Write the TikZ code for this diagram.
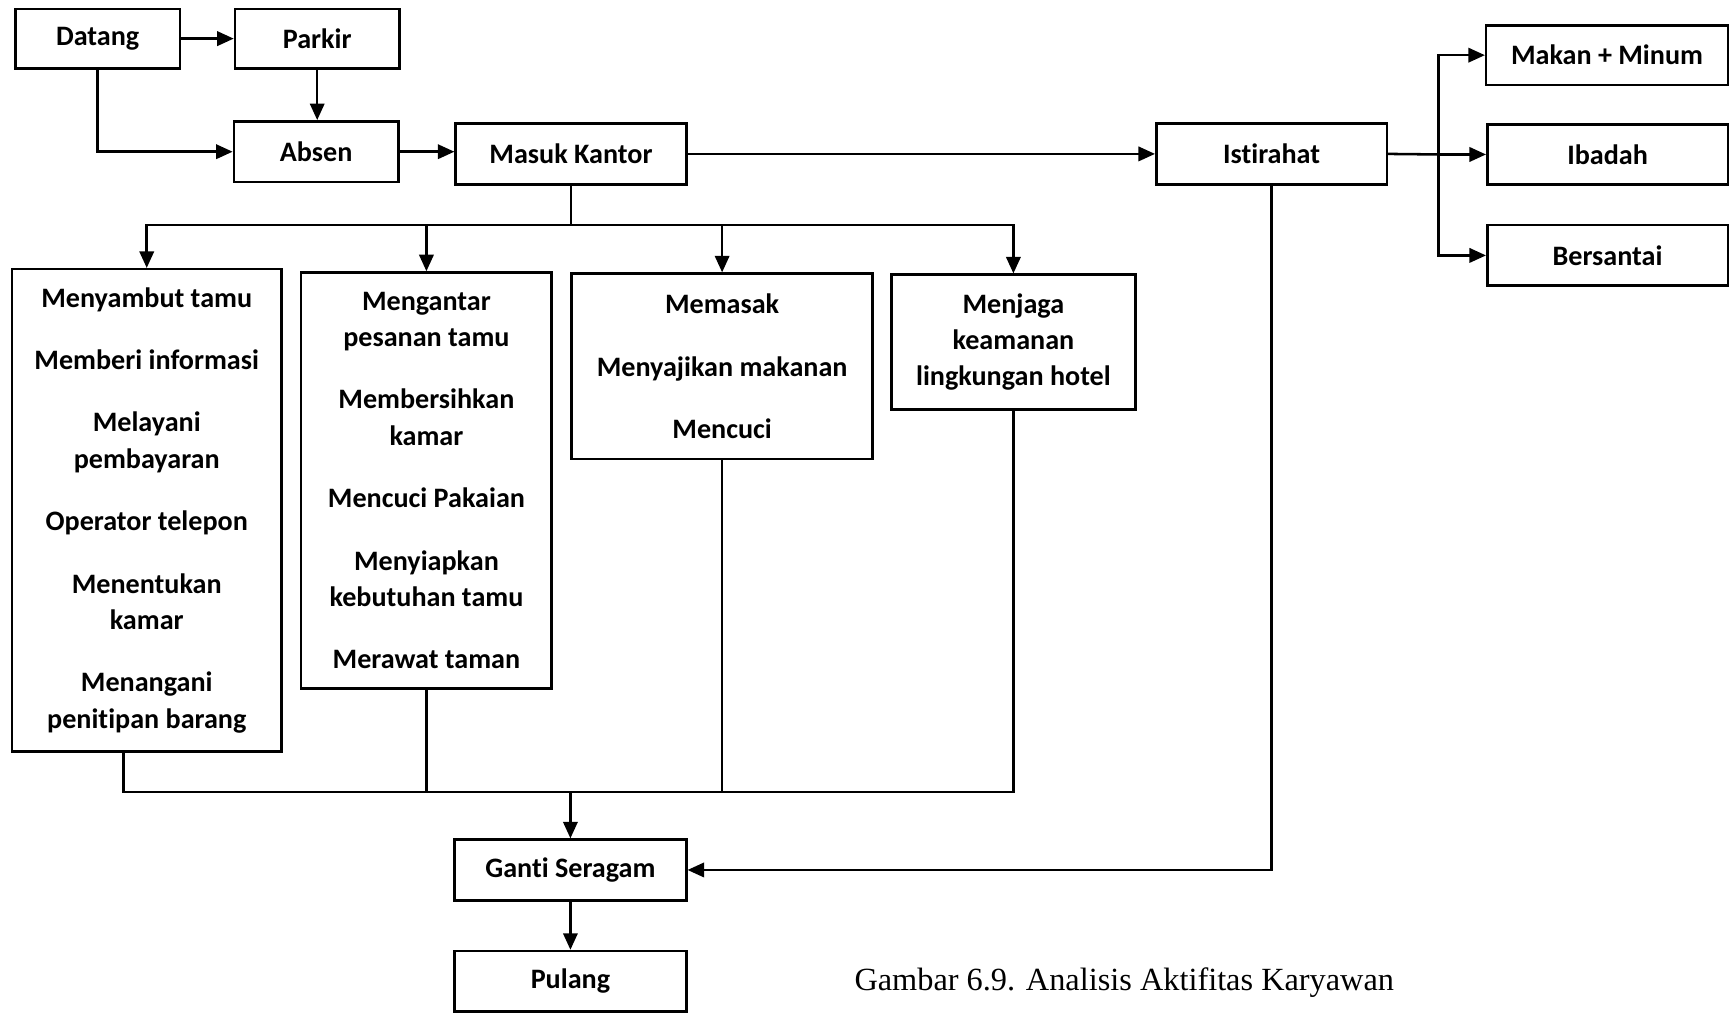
\documentclass[tikz,border=0pt]{standalone}
\usepackage{fontspec}
\setmainfont[Ligatures=NoCommon]{Carlito}
\newfontfamily\captionfont{Liberation Serif}
\usetikzlibrary{arrows.meta}
\begin{document}
\begin{tikzpicture}[x=1pt,y=-1pt,
  line width=2.3pt,
  every node/.style={font=\bfseries\fontsize{25.5}{33}\selectfont},
  box/.style={draw, inner sep=0pt, align=center},
  arr/.style={-{Triangle[length=15pt,width=13pt]}},
]
\useasboundingbox (0,0) rectangle (1568,918);

% top row: arrival
\node[box, minimum width=149pt, minimum height=54pt] (datang) at (88.5,35) {Datang};
\node[box, minimum width=149pt, minimum height=54pt] (parkir) at (287.5,35) {Parkir};
\node[box, minimum width=149pt, minimum height=55pt] (absen) at (286.5,137.5) {Absen};
\node[box, minimum width=209pt, minimum height=55pt] (masuk) at (517.5,139.5) {Masuk Kantor};
\node[box, minimum width=209pt, minimum height=55pt] (istirahat) at (1152.5,139.5) {Istirahat};

% break activities
\node[box, minimum width=219pt, minimum height=54pt] (makan) at (1456.5,50) {Makan + Minum};
\node[box, minimum width=218pt, minimum height=54pt] (ibadah) at (1457,140) {Ibadah};
\node[box, minimum width=218pt, minimum height=55pt] (santai) at (1457,231.5) {Bersantai};

% work activities per department
\node[box, minimum width=244pt, minimum height=437pt] (b1) at (133,462.5)
  {Menyambut tamu\\[23.5pt] Memberi informasi\\[23.5pt] Melayani\\ pembayaran\\[23.5pt]
   Operator telepon\\[23.5pt] Menentukan\\ kamar\\[23.5pt] Menangani\\ penitipan barang};
\node[box, minimum width=227pt, minimum height=377pt] (b2) at (386.5,435.5)
  {Mengantar\\ pesanan tamu\\[23.5pt] Membersihkan\\ kamar\\[23.5pt] Mencuci Pakaian\\[23.5pt]
   Menyiapkan\\ kebutuhan tamu\\[23.5pt] Merawat taman};
\node[box, minimum width=273pt, minimum height=168pt] (b3) at (654.5,332)
  {Memasak\\[23.5pt] Menyajikan makanan\\[23.5pt] Mencuci};
\node[box, minimum width=221pt, minimum height=122pt] (b4) at (918.5,310)
  {Menjaga\\ keamanan\\ lingkungan hotel};

% end of day
\node[box, minimum width=210pt, minimum height=55pt] (ganti) at (517,788.5) {Ganti Seragam};
\node[box, minimum width=210pt, minimum height=55pt] (pulang) at (517,889.5) {Pulang};

\node[font=\captionfont\fontsize{29.3}{34}\selectfont] (caption) at (1019,891)
  {Gambar 6.9. Analisis Aktifitas Karyawan};

% junction points
\coordinate (brk) at (1304,140);
\coordinate (split) at (517.5,204);
\coordinate (merge) at (517,718);

% arrival flow
\draw[arr] (datang) -- (parkir);
\draw[arr] (parkir.south) -- (parkir.south |- absen.north);
\draw[arr] (datang.south) |- (absen.west);
\draw[arr] (absen.east) -- (absen.east -| masuk.west);
\draw[arr] (masuk.east) -- (istirahat.west);

% break branches
\draw (istirahat.east) -- (brk);
\draw[arr] (brk) -- (ibadah.west);
\draw[arr] (brk) |- (makan.west);
\draw[arr] (brk) |- (santai.west);

% distribution to departments
\draw (masuk.south) -- (split);
\draw[arr] (split) -| (b1.north);
\draw[arr] (split) -| (b2.north);
\draw[arr] (split) -| (b3.north);
\draw[arr] (split) -| (b4.north);

% collection back to changing room
\draw ([xshift=-21pt]b1.south) |- (merge -| b4.south) -- (b4.south);
\draw (b2.south) -- (b2.south |- merge);
\draw (b3.south) -- (b3.south |- merge);
\draw[arr] (merge) -- (ganti.north);
\draw[arr] (istirahat.south) |- (ganti.east);
\draw[arr] (ganti) -- (pulang);
\end{tikzpicture}
\end{document}
